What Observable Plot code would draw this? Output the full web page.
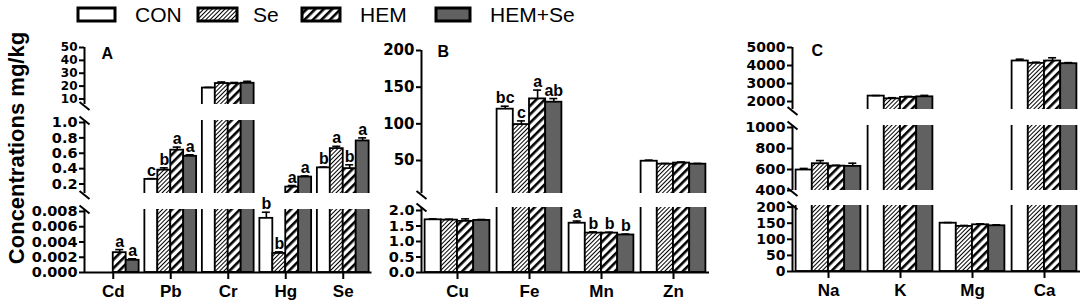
<!DOCTYPE html>
<html><head><meta charset="utf-8">
<script src="https://cdn.jsdelivr.net/npm/d3@7"></script>
<script src="https://cdn.jsdelivr.net/npm/@observablehq/plot@0.6"></script>
<style>
body{margin:0;background:#fff;}
#chart{position:relative;width:1084px;height:307px;overflow:hidden;font-family:"Liberation Sans",Arial,sans-serif;}
</style></head><body>
<svg width="0" height="0" style="position:absolute">
<defs>
<pattern id="pSe" patternUnits="userSpaceOnUse" width="3" height="3" patternTransform="rotate(45)">
<rect width="3" height="3" fill="white"/><rect width="1" height="3" fill="black"/>
</pattern>
<pattern id="pHEM" patternUnits="userSpaceOnUse" width="6" height="6" patternTransform="rotate(45)">
<rect width="6" height="6" fill="white"/><rect width="2.6" height="6" fill="black"/>
</pattern>
</defs>
</svg>
<div id="chart"></div>
<script>
// ---------------- data ----------------
const treatments = ["CON", "Se", "HEM", "HEM+Se"];
const fills = ["white", "url(#pSe)", "url(#pHEM)", "#616161"];

// Panel A
const elementsA = ["Cd", "Pb", "Cr", "Hg", "Se"];
const meansA = [
  [0, 0, 0.0026, 0.0016],
  [0.26, 0.38, 0.64, 0.56],
  [18.5, 22, 21.8, 22.2],
  [0.0071, 0.0025, 0.16, 0.29],
  [0.41, 0.66, 0.40, 0.76]
];
const errsA = [
  [0, 0, 0.0004, 0.0002],
  [0.01, 0.03, 0.04, 0.02],
  [0.5, 1.2, 1.0, 1.5],
  [0.0008, 0.0002, 0.02, 0.015],
  [0.01, 0.03, 0.05, 0.04]
];
const lettersA = [
  ["", "", "a", "a"],
  ["c", "b", "a", "a"],
  ["", "", "", ""],
  ["b", "b", "a", "a"],
  ["b", "a", "b", "a"]
];
// Panel B
const elementsB = ["Cu", "Fe", "Mn", "Zn"];
const meansB = [
  [1.70, 1.69, 1.65, 1.68],
  [120, 99, 134, 129.5],
  [1.59, 1.27, 1.27, 1.21],
  [49, 45, 46.5, 45]
];
const errsB = [
  [0.03, 0.03, 0.08, 0.03],
  [4, 5, 12, 5],
  [0.07, 0.04, 0.03, 0.03],
  [1.5, 1, 1.5, 1]
];
const lettersB = [
  ["", "", "", ""],
  ["bc", "c", "a", "ab"],
  ["a", "b", "b", "b"],
  ["", "", "", ""]
];
// Panel C
const elementsC = ["Na", "K", "Mg", "Ca"];
const meansC = [
  [595, 655, 632, 630],
  [2300, 2150, 2230, 2260],
  [150, 140, 145, 142],
  [4250, 4120, 4250, 4100]
];
const errsC = [
  [15, 30, 8, 30],
  [30, 60, 50, 80],
  [2, 3, 3, 3],
  [100, 60, 180, 60]
];
// tick values
const ticksA = [[10, 20, 30, 40, 50], [0.2, 0.4, 0.6, 0.8, 1.0], [0, 0.002, 0.004, 0.006, 0.008]];
const ticksB = [[50, 100, 150, 200], [0, 0.5, 1.0, 1.5, 2.0]];
const ticksC = [[2000, 3000, 4000, 5000], [400, 600, 800, 1000], [0, 50, 100, 150, 200]];

// ---------------- layout ----------------
const PAD = 0.1, BW = (1 - PAD) / 4;
const panels = [
  {label: "A", elements: elementsA, means: meansA, errs: errsA, letters: lettersA, axisX: 83.5, step: 57.5, labelDx: 17, labelDy: 0,
   segs: [
     {domain: [5.7, 50], px: [47, 104], ticks: ticksA[0], fmt: d3.format("d"), fs: 12},
     {domain: [0.0765, 1.026], px: [120, 193], ticks: ticksA[1], fmt: d3.format(".1f"), fs: 14.5},
     {domain: [0, 0.00826], px: [209, 272], ticks: ticksA[2], fmt: d3.format(".3f"), fs: 14.5}
   ]},
  {label: "B", elements: elementsB, means: meansB, errs: errsB, letters: lettersB, axisX: 421, step: 72, labelDx: 16, labelDy: -5,
   segs: [
     {domain: [5, 200], px: [50, 193], ticks: ticksB[0], fmt: d3.format("d"), fs: 15},
     {domain: [0, 2.097], px: [207, 272], ticks: ticksB[1], fmt: d3.format(".1f"), fs: 14.5}
   ]},
  {label: "C", elements: elementsC, means: meansC, errs: errsC, letters: null, axisX: 792, step: 72, labelDx: 19, labelDy: -3,
   segs: [
     {domain: [1556, 5000], px: [47, 109], ticks: ticksC[0], fmt: d3.format("d"), fs: 14},
     {domain: [400, 1019], px: [125, 190], ticks: ticksC[1], fmt: d3.format("d"), fs: 14.5},
     {domain: [0, 205], px: [205, 271], ticks: ticksC[2], fmt: d3.format("d"), fs: 14}
   ]}
];

const chart = document.getElementById("chart");
const FONT = "Liberation Sans, Arial, sans-serif";
const TICKFONT = "DejaVu Sans, sans-serif";

function rowsOf(p) {
  return p.elements.flatMap((el, gi) => treatments.map((t, ti) => {
    const x1 = gi + PAD / 2 + ti * BW;
    return {element: el, gi, ti, treatment: t, value: p.means[gi][ti], err: p.errs[gi][ti],
      letter: p.letters ? p.letters[gi][ti] : "", x1, x2: x1 + BW, xc: x1 + BW / 2};
  }));
}

panels.forEach((p) => {
  const rows = rowsOf(p);
  const n = p.elements.length;
  const fw = n * p.step;
  p.segs.forEach((s, si) => {
    const [lo, hi] = s.domain;
    const isTop = si === 0, isBottom = si === p.segs.length - 1;
    const fh = s.px[1] - s.px[0];
    const mL = 70, mR = 12, mT = 30, mB = isBottom ? 35 : 12;
    const uy = (hi - lo) / fh;       // data units per px (y)
    const ux = 1 / p.step;           // data units per px (x)
    const inSeg = rows.filter(d => d.value > lo && d.value <= hi && d.value > 0);
    const breaks = [];
    if (!isBottom) breaks.push({x1: -5 * ux, y1: lo + 2.5 * uy, x2: 5 * ux, y2: lo - 5.5 * uy});
    if (!isTop) breaks.push({x1: -5 * ux, y1: hi + 4 * uy, x2: 5 * ux, y2: hi - 4 * uy});
    const cap = 4 * ux;
    const marks = [
      Plot.rectY(rows.filter(d => d.value > lo), {
        x1: "x1", x2: "x2", y1: isBottom ? 0 : lo - (hi - lo), y2: "value",
        fill: "treatment", stroke: "black", strokeWidth: 1.8, clip: true
      }),
      Plot.ruleX(inSeg.filter(d => d.err > 0), {x: "xc", y1: "value", y2: d => d.value + d.err, stroke: "black", strokeWidth: 1.6}),
      Plot.ruleY(inSeg.filter(d => d.err > 0), {y: d => d.value + d.err, x1: d => d.xc - cap, x2: d => d.xc + cap, stroke: "black", strokeWidth: 1.6}),
      Plot.text(inSeg.filter(d => d.letter), {x: "xc", y: d => d.value + d.err, text: "letter", lineAnchor: "bottom", dy: -3,
        fontSize: 16, fontWeight: "bold", fontFamily: FONT, fill: "black"}),
      Plot.ruleX([0], {stroke: "black", strokeWidth: 2}),
      Plot.axisY({ticks: s.ticks, tickFormat: s.fmt, tickSize: 5, tickPadding: 2, strokeWidth: 2, label: null,
        fontSize: s.fs, fontWeight: "bold", fontFamily: TICKFONT}),
      Plot.link(breaks, {x1: "x1", y1: "y1", x2: "x2", y2: "y2", stroke: "black", strokeWidth: 2})
    ];
    if (isBottom) {
      marks.push(Plot.ruleY([0], {stroke: "black", strokeWidth: 2}));
      marks.push(Plot.axisX({ticks: d3.range(n).map(i => i + 0.5), tickFormat: v => p.elements[Math.floor(v)],
        tickSize: 7, tickPadding: 5, strokeWidth: 2, label: null, fontSize: 17, fontWeight: "bold", fontFamily: FONT}));
    }
    if (isTop) {
      marks.push(Plot.text([p.label], {text: d => d, frameAnchor: "top-left", textAnchor: "start", lineAnchor: "top",
        dx: p.labelDx, dy: p.labelDy, fontSize: 16, fontWeight: "bold", fontFamily: FONT, fill: "black"}));
    }
    const svg = Plot.plot({
      width: fw + mL + mR, height: fh + mT + mB,
      marginLeft: mL, marginRight: mR, marginTop: mT, marginBottom: mB,
      x: {domain: [0, n], label: null, axis: isBottom ? undefined : null},
      y: {domain: [lo, hi], label: null},
      color: {type: "ordinal", domain: treatments, range: fills},
      style: {background: "transparent", overflow: "visible", color: "black", fontFamily: FONT},
      marks
    });
    svg.style.position = "absolute";
    svg.style.left = (p.axisX - mL) + "px";
    svg.style.top = (s.px[0] - mT) + "px";
    svg.style.maxWidth = "none";
    chart.appendChild(svg);
  });
});

// y-axis title
const yt = d3.select(chart).append("svg").attr("width", 40).attr("height", 307)
  .style("position", "absolute").style("left", "0px").style("top", "0px");
yt.append("text").attr("transform", "translate(24,148) rotate(-90)").attr("text-anchor", "middle")
  .attr("font-family", FONT).attr("font-weight", "bold").attr("font-size", 22).text("Concentrations mg/kg");

// legend
const legBoxX = [78, 198, 302, 436], legBoxW = [37, 39, 38, 34], legTextX = [135, 253, 360, 490];
const lg = d3.select(chart).append("svg").attr("width", 700).attr("height", 32)
  .style("position", "absolute").style("left", "0px").style("top", "0px");
treatments.forEach((t, i) => {
  lg.append("rect").attr("x", legBoxX[i]).attr("y", 8).attr("width", legBoxW[i]).attr("height", 13)
    .attr("fill", fills[i]).attr("stroke", "black").attr("stroke-width", 3);
  lg.append("text").attr("x", legTextX[i]).attr("y", 22).attr("font-family", FONT).attr("font-size", 21).text(t);
});
</script>
</body></html>
